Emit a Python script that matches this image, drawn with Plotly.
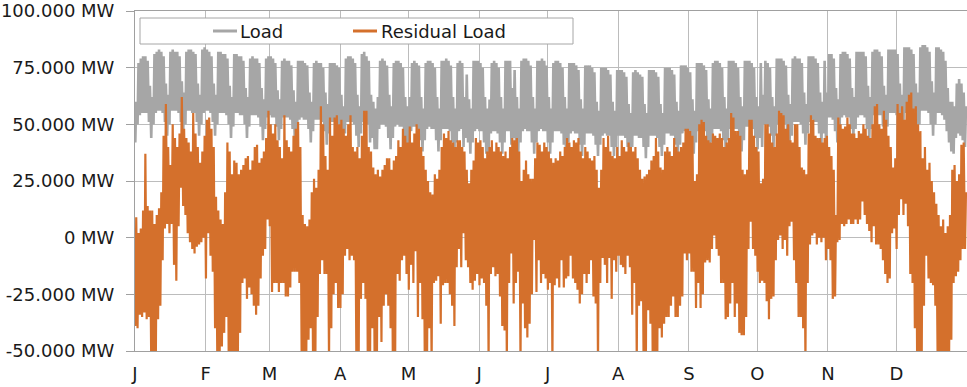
import pandas as pd
import plotly.graph_objects as go

# ---------------- data (in 1000 MW) ----------------
YEAR_START = "2017-01-01"
MONTH_LABELS = ["J", "F", "M", "A", "M", "J", "J", "A", "S", "O", "N", "D"]
Y_TICKS = [-50000, -25000, 0, 25000, 50000, 75000, 100000]
Y_TICK_LABELS = ["-50.000 MW", "-25.000 MW", "0 MW", "25.000 MW",
                 "50.000 MW", "75.000 MW", "100.000 MW"]
SERIES_NAMES = ["Load", "Residual Load"]

# daily peak of the load (day 0 = Sun 1 Jan, then Mon..Sun rows)
LOAD_PEAK_K = [60,
    77, 79, 80, 80, 78, 67, 62,  81, 82, 83, 82, 80, 68, 63,
    82, 83, 82, 82, 80, 69, 64,  82, 83, 83, 82, 81, 68, 63,
    83, 84, 83, 82, 80, 68, 63,  82, 82, 81, 81, 79, 67, 62,
    81, 81, 80, 80, 78, 66, 62,  79, 80, 79, 79, 77, 66, 61,
    79, 80, 80, 79, 77, 65, 61,  78, 79, 78, 78, 76, 65, 60,
    78, 78, 78, 77, 76, 64, 60,  77, 78, 77, 77, 75, 64, 59,
    77, 77, 77, 76, 75, 63, 58,  79, 80, 80, 79, 77, 63, 58,
    81, 82, 80, 78, 63, 60, 57,  62, 78, 79, 78, 76, 63, 58,
    77, 78, 78, 77, 75, 62, 58,  62, 77, 78, 77, 76, 62, 57,
    77, 78, 78, 77, 75, 62, 57,  78, 78, 79, 78, 76, 62, 57,
    77, 78, 77, 62, 72, 61, 57,  78, 78, 78, 77, 75, 62, 57,
    61, 77, 78, 77, 75, 62, 57,  78, 78, 78, 66, 74, 62, 57,
    78, 79, 79, 78, 76, 62, 57,  78, 78, 79, 78, 76, 62, 57,
    77, 78, 78, 77, 75, 62, 57,  77, 77, 77, 76, 74, 61, 57,
    76, 76, 76, 75, 73, 60, 56,  75, 75, 75, 74, 72, 60, 56,
    74, 74, 74, 73, 71, 59, 55,  73, 74, 73, 72, 71, 59, 55,
    74, 74, 74, 73, 71, 59, 55,  75, 75, 75, 74, 72, 60, 56,
    76, 76, 76, 75, 73, 61, 56,  77, 77, 77, 76, 74, 61, 57,
    77, 78, 78, 77, 75, 62, 57,  78, 78, 78, 77, 75, 62, 58,
    78, 78, 78, 77, 75, 62, 58,  77, 63, 78, 77, 75, 62, 58,
    79, 79, 79, 78, 76, 63, 59,  79, 80, 79, 79, 77, 64, 59,
    80, 80, 80, 79, 77, 64, 60,  78, 64, 81, 81, 79, 66, 61,
    81, 82, 82, 81, 79, 66, 62,  82, 82, 82, 82, 80, 67, 62,
    82, 83, 83, 82, 80, 67, 63,  83, 83, 83, 83, 81, 68, 63,
    84, 84, 84, 83, 81, 68, 64,  84, 85, 85, 84, 82, 69, 64,
    84, 84, 83, 82, 78, 66, 60,  60, 58, 68, 70, 68, 64, 58]

# daily night-time minimum of the load
LOAD_TROUGH_K = [42,
    50, 54, 55, 55, 55, 51, 44,  50, 55, 56, 56, 55, 51, 45,
    50, 56, 56, 56, 55, 51, 45,  50, 56, 56, 55, 55, 51, 45,
    50, 55, 56, 56, 55, 51, 45,  50, 55, 55, 55, 54, 50, 44,
    49, 55, 55, 54, 54, 50, 44,  49, 54, 54, 54, 53, 49, 43,
    48, 53, 54, 53, 53, 49, 43,  48, 53, 53, 53, 52, 48, 42,
    47, 52, 53, 52, 52, 48, 42,  47, 52, 52, 52, 51, 47, 41,
    46, 51, 51, 51, 50, 46, 40,  46, 51, 51, 51, 50, 45, 40,
    46, 51, 51, 50, 42, 44, 39,  39, 48, 50, 50, 49, 44, 39,
    44, 49, 50, 49, 49, 44, 39,  39, 47, 49, 49, 48, 43, 38,
    43, 48, 49, 48, 48, 43, 38,  43, 48, 48, 48, 47, 42, 37,
    42, 47, 48, 40, 44, 42, 37,  42, 47, 48, 47, 47, 42, 37,
    37, 46, 47, 47, 46, 42, 37,  42, 47, 47, 41, 44, 42, 37,
    42, 47, 48, 47, 47, 42, 37,  42, 47, 48, 47, 47, 42, 37,
    42, 47, 47, 47, 46, 41, 37,  42, 46, 47, 46, 46, 41, 36,
    41, 46, 46, 46, 45, 41, 36,  41, 45, 46, 45, 45, 40, 36,
    40, 45, 45, 45, 44, 40, 36,  40, 45, 45, 44, 44, 40, 35,
    40, 45, 45, 45, 44, 40, 36,  41, 46, 46, 45, 45, 41, 36,
    41, 46, 47, 46, 46, 41, 37,  42, 47, 48, 47, 47, 42, 37,
    42, 48, 48, 48, 47, 43, 38,  43, 48, 49, 48, 48, 43, 38,
    43, 49, 49, 49, 48, 44, 39,  44, 40, 50, 50, 49, 45, 40,
    45, 50, 51, 51, 50, 45, 40,  45, 51, 51, 51, 50, 46, 41,
    46, 51, 52, 51, 51, 46, 41,  46, 42, 53, 53, 52, 47, 42,
    47, 53, 54, 53, 53, 48, 43,  48, 53, 54, 54, 53, 48, 43,
    48, 54, 55, 54, 54, 49, 44,  49, 55, 55, 55, 54, 49, 44,
    49, 55, 56, 55, 55, 50, 45,  50, 56, 56, 56, 55, 50, 45,
    50, 55, 55, 54, 52, 47, 42,  38, 37, 44, 46, 45, 43, 40]

# daily maximum of the residual load (rows of 7 days from 1 Jan)
RESIDUAL_MAX_K = [
    9, 2, 4, 12, 37, 14, 12,      12, 6, 10, 13, 20, 45, 59,
    40, 32, 50, 44, 40, 46, 62,   48, 44, 42, 38, 55, 46, 40,
    33, 38, 45, 52, 53, 48, 40,   18, 12, 8, 6, 20, 42, 38,
    28, 34, 33, 28, 30, 32, 35,   36, 30, 34, 40, 41, 33, 35,
    38, 44, 56, 50, 46, 50, 43,   40, 35, 54, 43, 40, 38, 45,
    48, 51, 40, 10, 6, 5, 8,      20, 26, 22, 30, 58, 50, 36,
    30, 53, 45, 53, 54, 50, 52,   48, 45, 50, 54, 40, 38, 40,
    35, 45, 56, 56, 40, 38, 31,   28, 30, 27, 30, 32, 35, 35,
    30, 34, 36, 43, 40, 48, 45,   42, 49, 42, 46, 50, 48, 40,
    36, 30, 25, 20, 19, 28, 26,   30, 40, 46, 44, 47, 43, 42,
    40, 43, 43, 40, 38, 30, 24,   30, 34, 44, 42, 43, 40, 35,
    38, 40, 43, 38, 42, 40, 38,   36, 38, 35, 40, 44, 43, 44,
    38, 25, 30, 34, 28, 26, 26,   35, 42, 41, 38, 42, 40, 38,
    35, 33, 35, 34, 38, 36, 40,   44, 42, 40, 43, 42, 44, 38,
    35, 40, 38, 35, 34, 36, 30,   22, 30, 44, 40, 45, 38, 36,
    35, 40, 36, 43, 40, 38, 42,   40, 38, 40, 35, 30, 26, 27,
    28, 30, 34, 36, 44, 38, 31,   30, 38, 40, 38, 36, 44, 40,
    38, 40, 42, 48, 48, 47, 45,   25, 28, 50, 52, 51, 45, 43,
    42, 46, 45, 44, 46, 44, 40,   42, 44, 55, 53, 47, 47, 45,
    30, 28, 30, 52, 52, 45, 40,   38, 24, 26, 50, 50, 46, 42,
    40, 46, 56, 55, 54, 48, 50,   43, 42, 50, 50, 40, 31, 30,
    28, 46, 54, 52, 45, 44, 44,   42, 44, 45, 40, 36, 30, 10,
    53, 50, 48, 49, 53, 50, 46,   46, 44, 47, 46, 50, 48, 45,
    44, 50, 58, 59, 50, 48, 56,   52, 45, 40, 31, 35, 59, 55,
    58, 52, 60, 63, 64, 57, 58,   50, 47, 35, 40, 30, 33, 25,
    20, 15, 10, 5, 8, 2, 5,       10, 30, 32, 25, 28, 41, 42,
    20]

# daily minimum of the residual load (-55 = below the visible range)
RESIDUAL_MIN_K = [
    -39, -40, -34, -35, -33, -36, -35,   -55, -55, -55, -36, -30, -10, 4,
    6, 2, 6, -12, -19, 5, 22,            14, 10, 2, -2, -5, -7, -4,
    -3, -2, 0, -18, 2, -8, -15,          -40, -55, -55, -48, -42, -35, -55,
    -55, -55, -55, -55, -42, -20, -18,   -27, -22, -25, -30, -34, -30, -18,
    -8, -5, 8, 5, -24, -20, -20,         -24, -20, -20, -26, -26, -22, -15,
    -15, -15, -20, -55, -55, -55, -45,   -40, -55, -55, -35, -16, -10, -16,
    -16, -55, -40, -25, -20, -31, -31,   -25, -8, -5, -10, -8, -10, -55,
    -55, -27, -20, -27, -55, -55, -40,   -55, -55, -35, -46, -30, -25, -30,
    -40, -55, -55, -16, -19, -10, -8,    -16, -23, -12, -20, -6, -35, -20,
    -36, -55, -55, -40, -55, -20, -19,   -17, -38, -21, -20, -20, -25, -30,
    -39, -13, -5, -13, 2, -10, -13,      -20, -23, -19, -16, -21, -18, -20,
    -30, -55, -16, -13, -17, -16, -26,   -39, -41, -55, -20, -7, -29, -20,
    -15, -55, -29, -40, -44, -38, -25,   -1, -24, -10, -20, -16, -18, -23,
    -20, -55, -21, -18, -22, -10, -22,   -18, -17, -8, -18, -20, -23, -29,
    -25, -16, -20, -16, -10, -26, -29,   -55, -20, -9, -12, -20, -9, -27,
    -10, -15, -8, -12, -13, -16, -8,     -13, -34, -20, -55, -30, -28, -55,
    -55, -32, -38, -55, -55, -55, -40,   -44, -38, -35, -35, -30, -26, -35,
    -35, -30, -26, -7, -10, -7, -15,     -15, -31, -20, -31, -25, -11, -10,
    -11, -5, 1, -5, -8, -20, -20,        -36, -35, -29, -20, -35, -29, -42,
    -43, -43, -35, -5, 7, -5, -8,        -15, -20, -19, -20, -28, -36, -27,
    -26, -10, -1, 1, -5, -1, -8,         5, 7, -10, -20, -35, -35, -40,
    -55, -20, -3, 1, 2, -3, 0,           -2, 0, -10, -5, -10, -27, -26,
    -2, -1, 6, 5, 6, 8, 6,               6, 8, 6, 8, 16, 10, 6,
    3, -2, 5, -3, -3, -5, -10,           -16, -20, -18, 2, 4, -5, 10,
    17, 10, 15, 5, -16, -20, -40,        -55, -55, -55, -30, -8, -18, -20,
    -21, -30, -55, -55, -55, -55, -55,   -55, -45, -20, -17, -15, -10, -5,
    -5]

assert len(LOAD_PEAK_K) == len(LOAD_TROUGH_K) == len(RESIDUAL_MAX_K) == len(RESIDUAL_MIN_K) == 365

# ---------------- build the series ----------------
days = pd.date_range(YEAR_START, periods=365, freq="D")
x, load, resid = [], [], []
for i, day in enumerate(days):
    x += [day + pd.Timedelta(hours=3), day + pd.Timedelta(hours=13)]
    load += [LOAD_TROUGH_K[i] * 1000, LOAD_PEAK_K[i] * 1000]
    resid += [RESIDUAL_MIN_K[i] * 1000, RESIDUAL_MAX_K[i] * 1000]

GREY = "#a6a6a6"
ORANGE = "#d4702c"
GRID = "#bcbcbc"
AXIS = "#a0a0a0"
FONT = "DejaVu Sans, Verdana, sans-serif"

fig = go.Figure()
fig.add_trace(go.Scatter(x=x, y=load, mode="lines", name=SERIES_NAMES[0],
                         line=dict(color=GREY, width=2.6)))
fig.add_trace(go.Scatter(x=x, y=resid, mode="lines", name=SERIES_NAMES[1],
                         line=dict(color=ORANGE, width=2.2)))

month_starts = pd.date_range(YEAR_START, periods=12, freq="MS")

W, H = 967, 387
L, R, T, B = 135, 0, 11, 36
PW, PH = W - L - R, H - T - B


def px(xp):
    return (xp - L) / PW


def py(yp):
    return (H - B - yp) / PH


fig.update_layout(
    width=W, height=H,
    margin=dict(l=L, r=R, t=T, b=B, autoexpand=False),
    plot_bgcolor="white", paper_bgcolor="white",
    showlegend=False,
    font=dict(family=FONT, size=18, color="#1a1a1a"),
    xaxis=dict(type="date", range=[YEAR_START, "2018-01-01"],
               tickvals=month_starts, ticktext=MONTH_LABELS,
               showgrid=True, gridcolor=GRID, gridwidth=1,
               showline=True, linecolor=AXIS, linewidth=1, mirror=True,
               ticks="", ticklabelstandoff=6, zeroline=False, automargin=False),
    yaxis=dict(range=[-50000, 100000], tickvals=Y_TICKS, ticktext=Y_TICK_LABELS,
               showgrid=True, gridcolor=GRID, gridwidth=1,
               showline=True, linecolor=AXIS, linewidth=1,
               ticks="outside", ticklen=8, tickcolor=AXIS,
               ticklabelstandoff=8, zeroline=False, automargin=False),
)

# legend box drawn like the reference (wide frame with two entries)
fig.add_shape(type="rect", xref="paper", yref="paper",
              x0=px(140), x1=px(573), y0=py(44), y1=py(18),
              fillcolor="white", line=dict(color=GREY, width=1), layer="above")
for (x0, x1, col) in [(213, 237, GREY), (353, 377, ORANGE)]:
    fig.add_shape(type="line", xref="paper", yref="paper",
                  x0=px(x0), x1=px(x1), y0=py(31), y1=py(31),
                  line=dict(color=col, width=3), layer="above")
for (xt, name) in [(238, SERIES_NAMES[0]), (379, SERIES_NAMES[1])]:
    fig.add_annotation(text=name, xref="paper", yref="paper",
                       x=px(xt), y=py(31), xanchor="left", yanchor="middle",
                       showarrow=False, font=dict(family=FONT, size=18, color="#1a1a1a"))

fig.write_html("out.html",
               config={"displayModeBar": False},
               post_script="document.body.style.margin='0';document.body.style.overflow='hidden';")
